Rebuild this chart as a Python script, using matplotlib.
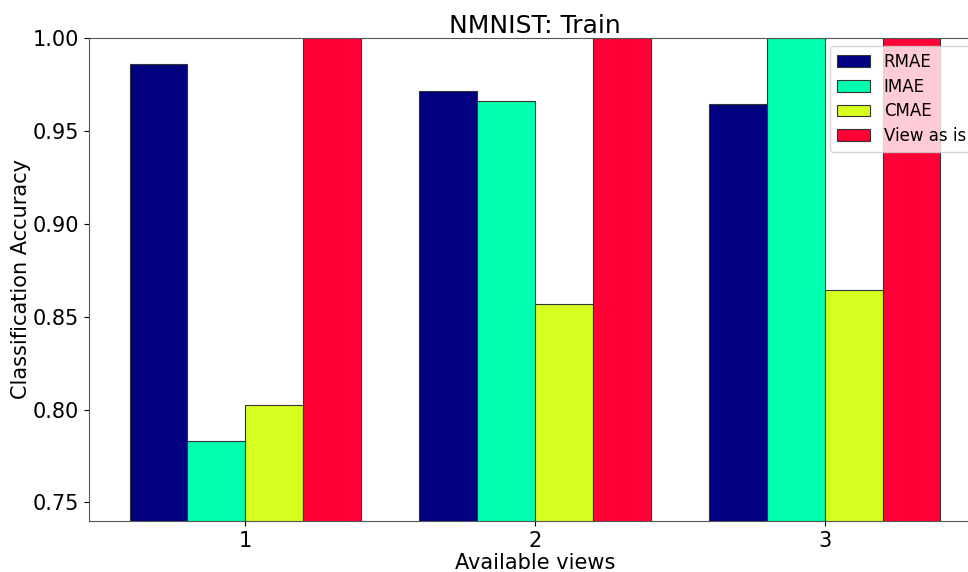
import numpy as np
import matplotlib.pyplot as plt

views = [1, 2, 3]
methods = ['RMAE', 'IMAE', 'CMAE', 'View as is']
rmae = [0.986, 0.9715, 0.9645]
imae = [0.783, 0.966, 1.0]
cmae = [0.8027, 0.857, 0.8645]
view_as_is = [1.0, 1.0, 1.0]
colors = ['#000080', '#00ffaf', '#d6ff1f', '#ff0037']

scores = [rmae, imae, cmae, view_as_is]
x = np.array(views)
width = 0.2

fig = plt.figure(figsize=(9.68, 5.72), dpi=100)
ax = fig.add_axes([0.0919, 0.0892, 0.9215, 0.8444])

for i, (name, vals) in enumerate(zip(methods, scores)):
    ax.bar(x + (i - 1.5) * width, vals, width, color=colors[i],
           edgecolor='#333333', linewidth=0.8, label=name)

ax.set_ylim(0.74, 1.0)
ax.set_xticks(x)
ax.set_yticks([0.75, 0.80, 0.85, 0.90, 0.95, 1.00])
ax.tick_params(labelsize=15)
for s in ax.spines.values():
    s.set_color('#555555')
ax.set_xlabel('Available views', fontsize=15, labelpad=2)
ax.set_ylabel('Classification Accuracy', fontsize=15, labelpad=1)
ax.set_title('NMNIST: Train', fontsize=18, pad=3)
ax.legend(loc='upper right', fontsize=12, labelspacing=0.4)

fig.savefig('out.png', dpi=100)
